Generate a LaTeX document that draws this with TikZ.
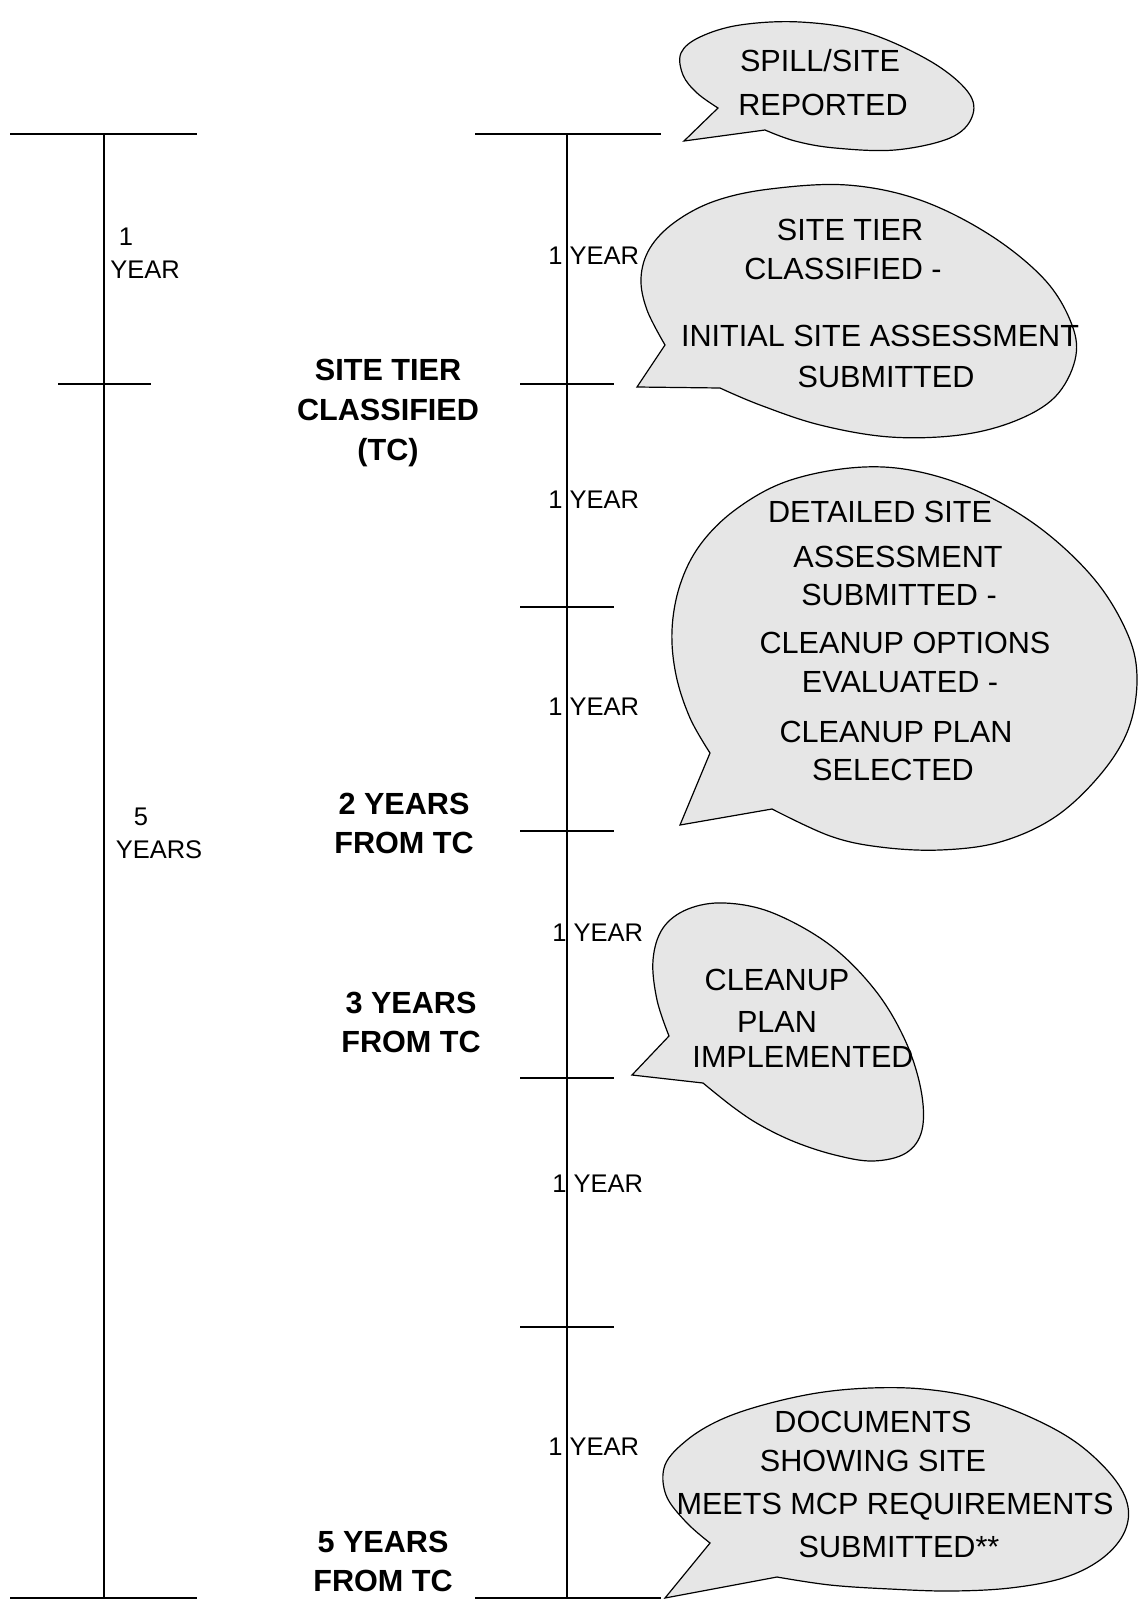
\documentclass[tikz,border=0pt]{standalone}
\usepackage{fontspec}
\setmainfont{Liberation Sans}
\definecolor{bubgray}{RGB}{230,230,230}
\begin{document}
\begin{tikzpicture}[x=0.5pt,y=-0.5pt]
\tikzset{
  tl/.style={line width=0.7pt},
  bub/.style={draw=black, line width=0.6pt, fill=bubgray, line join=miter},
  btxt/.style={font=\fontsize{15.3}{18}\selectfont, inner sep=0pt, text height=11pt, text depth=0pt},
  bldtxt/.style={font=\fontsize{15.3}{18}\selectfont\bfseries, inner sep=0pt, text height=11pt, text depth=0pt},
  yr/.style={font=\fontsize{12.75}{15}\selectfont, inner sep=0pt, text height=9.1pt, text depth=0pt},
}
\useasboundingbox (0,0) rectangle (1145,1600);
% ---------- left timeline
\draw[tl] (10,134) -- (197,134);
\draw[tl] (104,134) -- (104,1598);
\draw[tl] (58,384) -- (151,384);
\draw[tl] (10,1598) -- (197,1598);
\node[yr] (l1a) at (126,236) {1};
\node[yr] (l1b) at (145,269) {YEAR};
\node[yr] (l5a) at (141,816) {5};
\node[yr] (l5b) at (159,849) {YEARS};
% ---------- right timeline
\draw[tl] (475,134) -- (661,134);
\draw[tl] (567,134) -- (567,1598);
\foreach \y in {384,607,831,1078,1327} \draw[tl] (520,\y) -- (614,\y);
\draw[tl] (475,1598) -- (661,1598);
\node[yr,anchor=west] (y1) at (548,255) {1 YEAR};
\node[yr,anchor=west] (y2) at (548,499) {1 YEAR};
\node[yr,anchor=west] (y3) at (548,706) {1 YEAR};
\node[yr,anchor=west] (y4) at (552,932) {1 YEAR};
\node[yr,anchor=west] (y5) at (552,1183) {1 YEAR};
\node[yr,anchor=west] (y6) at (548,1446) {1 YEAR};
% ---------- bold milestone labels
\node[bldtxt] (m1a) at (388,369) {SITE TIER};
\node[bldtxt] (m1b) at (388,409) {CLASSIFIED};
\node[bldtxt] (m1c) at (388,449) {(TC)};
\node[bldtxt] (m2a) at (404,803) {2 YEARS};
\node[bldtxt] (m2b) at (404,842) {FROM TC};
\node[bldtxt] (m3a) at (411,1002) {3 YEARS};
\node[bldtxt] (m3b) at (411,1041) {FROM TC};
\node[bldtxt] (m5a) at (383,1541) {5 YEARS};
\node[bldtxt] (m5b) at (383,1580) {FROM TC};
% ---------- callouts
\draw[bub] plot[smooth, tension=0.6] coordinates {(718,108) (697,93) (683,75) (681,53) (700,37) (740,25) (800,22) (865,32) (930,61) (968,92) (972,117) (950,138) (895,150) (835,148) (795,141) (765,130)} -- (684,141) -- cycle;
\draw[bub] plot[smooth, tension=0.6] coordinates {(665,345) (647,310) (641,278) (650,248) (675,222) (715,201) (770,189) (847,185) (920,200) (990,235) (1045,280) (1072,325) (1075,360) (1055,397) (1015,421) (960,435) (890,437) (820,425) (760,405) (720,388)} -- (637,387) -- cycle;
\draw[bub] plot[smooth, tension=0.6] coordinates {(710,753) (690,718) (676,675) (672,630) (680,585) (700,545) (735,510) (785,482) (850,468) (910,470) (975,490) (1040,528) (1095,580) (1128,635) (1137,680) (1128,730) (1100,775) (1055,817) (1000,842) (940,850) (880,847) (830,836) (772,809)} -- (680,825) -- cycle;
\draw[bub] plot[smooth, tension=0.6] coordinates {(669,1036) (657,1000) (653,960) (663,928) (688,909) (725,903) (773,913) (830,945) (875,990) (905,1040) (921,1090) (922,1130) (906,1153) (873,1161) (835,1155) (795,1142) (760,1125) (733,1107) (703,1083)} -- (632,1075) -- cycle;
\draw[bub] plot[smooth, tension=0.6] coordinates {(710,1543) (686,1522) (666,1495) (665,1465) (687,1440) (720,1420) (763,1405) (817,1393) (870,1388) (923,1389) (977,1398) (1030,1417) (1077,1443) (1113,1477) (1128,1507) (1123,1535) (1100,1560) (1063,1578) (1010,1588) (950,1591) (890,1589) (830,1585) (777,1577)} -- (665,1598) -- cycle;
% ---------- callout texts
\node[btxt] (a1) at (820,61) {SPILL/SITE};
\node[btxt] (a2) at (823,105) {REPORTED};
\node[btxt] (b1) at (850,229) {SITE TIER};
\node[btxt] (b2) at (843,268) {CLASSIFIED -};
\node[btxt] (b3) at (880,335) {INITIAL SITE ASSESSMENT};
\node[btxt] (b4) at (886,376) {SUBMITTED};
\node[btxt] (c1) at (880,511) {DETAILED SITE};
\node[btxt] (c2) at (898,556) {ASSESSMENT};
\node[btxt] (c3) at (899,594) {SUBMITTED -};
\node[btxt] (c4) at (905,642) {CLEANUP OPTIONS};
\node[btxt] (c5) at (900,681) {EVALUATED -};
\node[btxt] (c6) at (896,731) {CLEANUP PLAN};
\node[btxt] (c7) at (893,769) {SELECTED};
\node[btxt] (d1) at (777,979) {CLEANUP};
\node[btxt] (d2) at (777,1021) {PLAN};
\node[btxt] (d3) at (803,1056) {IMPLEMENTED};
\node[btxt] (e1) at (873,1421) {DOCUMENTS};
\node[btxt] (e2) at (873,1460) {SHOWING SITE};
\node[btxt] (e3) at (895,1503) {MEETS MCP REQUIREMENTS};
\node[btxt] (e4) at (899,1546) {SUBMITTED**};
\end{tikzpicture}
\end{document}
